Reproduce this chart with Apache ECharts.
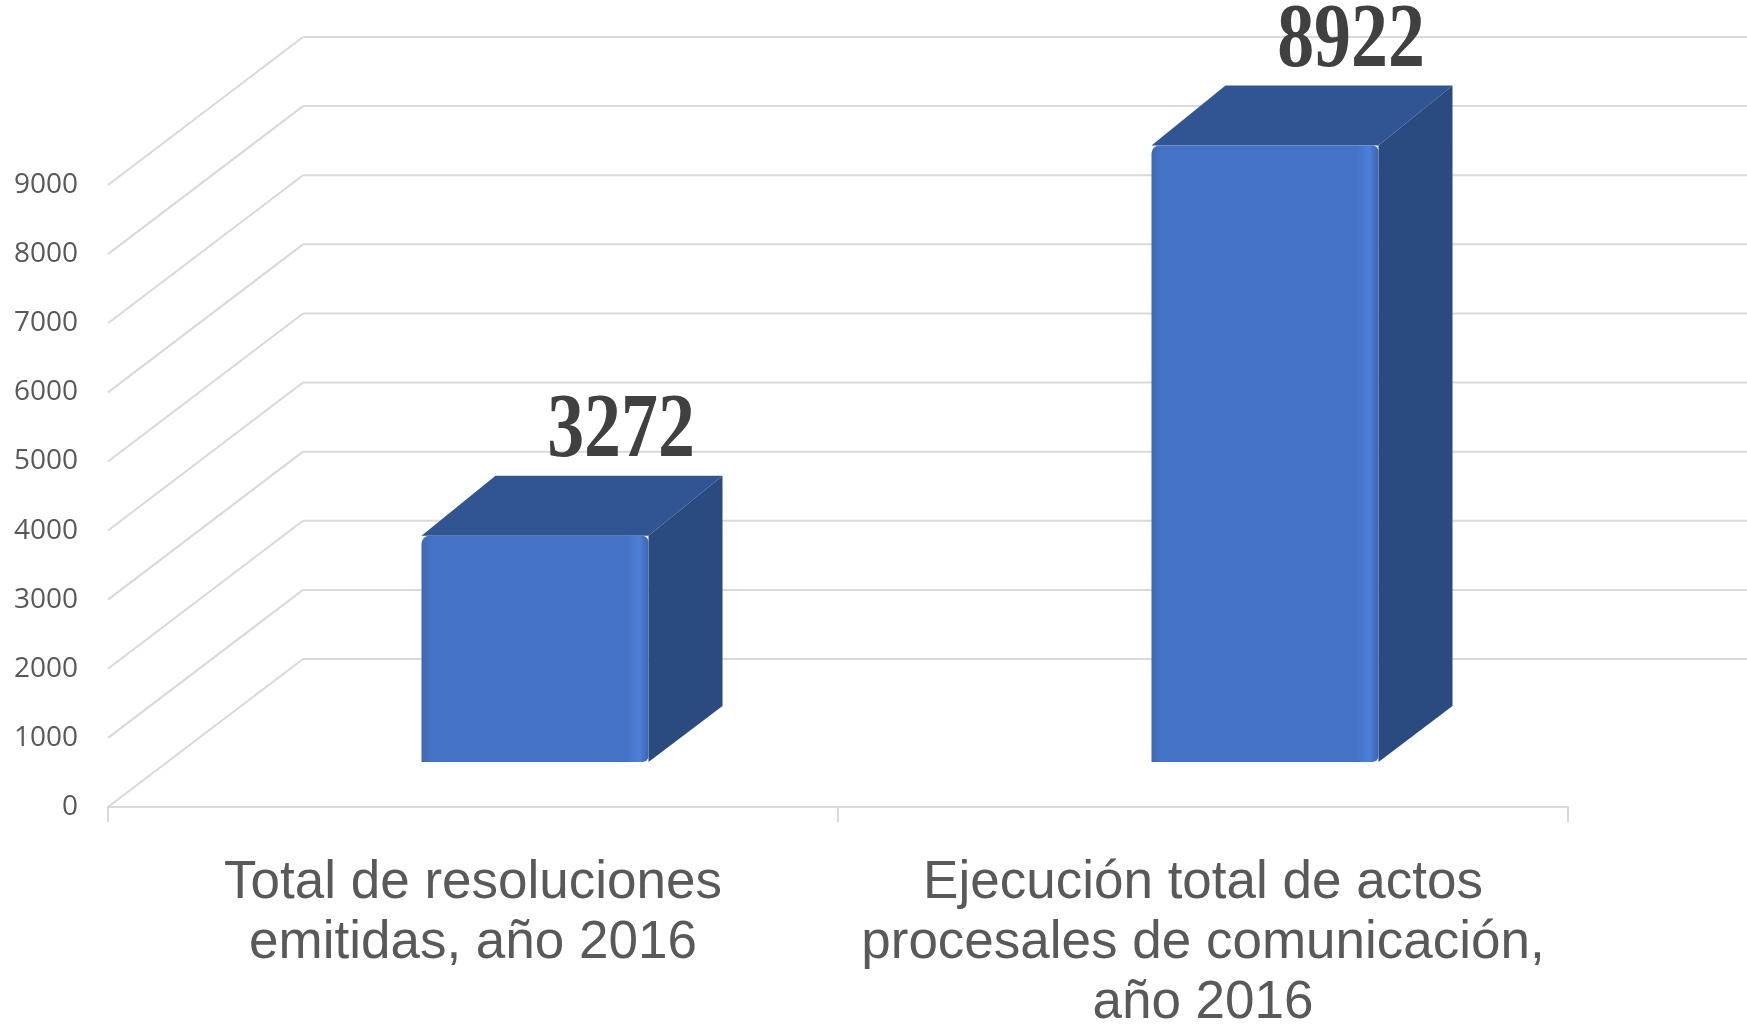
<!DOCTYPE html>
<html>
<head>
<meta charset="utf-8" />
<title>Resoluciones y actos procesales 2016</title>
<script src="https://cdn.jsdelivr.net/npm/echarts@6.0.0/dist/echarts.min.js"></script>
<style>
  html, body { margin: 0; padding: 0; background: #ffffff; }
  #chart { width: 1747px; height: 1031px; }
</style>
</head>
<body>
<div id="chart"></div>
<script>
// datos
const categories = [
  "Total de resoluciones\nemitidas, año 2016",
  "Ejecución total de actos\nprocesales de comunicación,\naño 2016",
];
const values = [3272, 8922];
const yTicks = [0, 1000, 2000, 3000, 4000, 5000, 6000, 7000, 8000, 9000];

// profundidad de las paredes (pseudo 3D)
const WALL_DX = 195;
const WALL_DY = -148;
// posicion de la barra dentro de la profundidad
const BAR_DX = 62;
const BAR_DY = -45;
const TOP_DX = 74;
const TOP_DY = -60;

const chart = echarts.init(document.getElementById("chart"));

// paredes: diagonal lateral + linea del fondo
function renderWall(params, api) {
  const rect = params.coordSys;
  const y = api.coord([0, api.value(1)])[1];
  const x0 = rect.x;
  return {
    type: "group",
    children: [
      {
        type: "line",
        shape: { x1: x0, y1: y, x2: x0 + WALL_DX, y2: y + WALL_DY },
        style: { stroke: "#d9d9d9", lineWidth: 2 },
      },
      {
        type: "line",
        shape: { x1: x0 + WALL_DX, y1: y + WALL_DY, x2: api.getWidth(), y2: y + WALL_DY },
        style: { stroke: "#d9d9d9", lineWidth: 2 },
      },
    ],
  };
}

// barras en cubo
function renderBar(params, api) {
  const base = api.coord([api.value(0), 0]);
  const top = api.coord([api.value(0), api.value(1)]);
  const bw = api.size([1, 0])[0] * 0.311;
  const cx = base[0] + BAR_DX;
  const L = cx - bw / 2;
  const R = cx + bw / 2;
  const yb = base[1] + BAR_DY;
  const yt = top[1] + BAR_DY;
  return {
    type: "group",
    children: [
      {
        type: "polygon",
        shape: {
          points: [[R, yt], [R + TOP_DX, yt + TOP_DY], [R + TOP_DX, yb + TOP_DY + 4], [R, yb]],
        },
        style: { fill: "#2b4a7f" },
      },
      {
        type: "polygon",
        shape: {
          points: [[L, yt], [R, yt], [R + TOP_DX, yt + TOP_DY], [L + TOP_DX, yt + TOP_DY]],
        },
        style: { fill: "#305592" },
      },
      {
        type: "rect",
        shape: { x: L, y: yt, width: bw, height: yb - yt, r: [8, 6, 6, 0] },
        style: {
          fill: new echarts.graphic.LinearGradient(0, 0, 1, 0, [
            { offset: 0, color: "#3d68b6" },
            { offset: 0.04, color: "#4472c4" },
            { offset: 0.9, color: "#4472c4" },
            { offset: 0.96, color: "#4c80d8" },
            { offset: 1, color: "#3b65b0" },
          ]),
        },
      },
      {
        type: "text",
        x: cx + 86,
        y: yt - 58,
        scaleX: 0.82,
        style: {
          text: String(api.value(1)),
          font: "bold 90px 'Liberation Serif'",
          fill: "#404040",
          align: "center",
          verticalAlign: "bottom",
        },
      },
    ],
  };
}

const option = {
  backgroundColor: "#ffffff",
  animation: false,
  grid: {
    left: 108,
    right: 179,
    top: 185,
    bottom: 224,
    outerBoundsMode: "none",
  },
  xAxis: {
    type: "category",
    data: categories,
    axisLine: { lineStyle: { color: "#d9d9d9", width: 2 } },
    axisTick: { show: true, length: 15, lineStyle: { color: "#d9d9d9", width: 2 } },
    axisLabel: {
      interval: 0,
      margin: 46,
      color: "#595959",
      fontFamily: "Liberation Sans",
      fontSize: 53,
      lineHeight: 60,
    },
  },
  yAxis: {
    type: "value",
    min: 0,
    max: 9000,
    interval: 1000,
    axisLine: { show: false },
    axisTick: { show: false },
    splitLine: { show: false },
    axisLabel: {
      margin: 30,
      color: "#595959",
      fontFamily: "Open Sans",
      fontSize: 28,
      formatter: (v) => String(v),
    },
  },
  series: [
    {
      type: "custom",
      renderItem: renderWall,
      data: yTicks.map((v) => [0, v]),
      silent: true,
      z: 1,
    },
    {
      type: "custom",
      renderItem: renderBar,
      data: values.map((v, i) => [i, v]),
      z: 5,
    },
  ],
};

chart.setOption(option);
</script>
</body>
</html>
